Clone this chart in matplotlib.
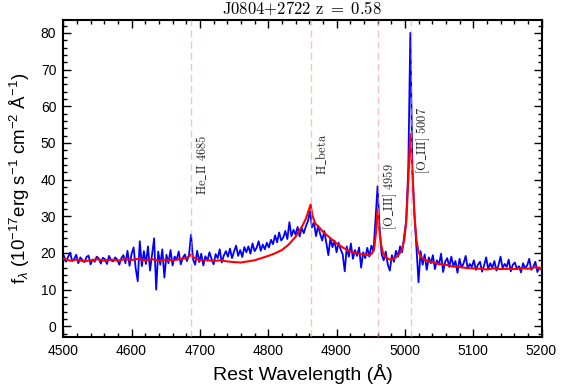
import numpy as np
import matplotlib
matplotlib.use("Agg")
import matplotlib.pyplot as plt
from matplotlib.ticker import MultipleLocator

# ---------------- data ----------------
wave_start = 4501
wave_step = 3
blue_flux = [
    19.2, 17.6, 18.9, 20.1, 17.8, 18.4, 19.5, 17.2, 18.8, 18.1,
    17.5, 18.9, 19.3, 16.9, 18.2, 17.6, 19.0, 18.5, 17.1, 18.7,
    18.3, 17.0, 19.2, 18.0, 17.7, 18.8, 18.2, 16.8, 18.6, 19.4,
    17.2, 20.6, 16.5, 19.8, 21.5, 15.8, 12.3, 23.2, 16.4, 20.5,
    17.0, 21.8, 15.2, 19.6, 24.0, 10.0, 20.4, 16.8, 21.0, 13.3,
    19.5, 17.2, 20.8, 16.6, 19.0, 18.2, 20.4, 16.9, 18.7, 19.6,
    17.8, 19.4, 25.0, 18.2, 16.8, 20.6, 17.5, 19.8, 16.6, 19.1,
    17.9, 20.2, 18.4, 16.9, 19.7, 18.6, 21.0, 17.4, 19.3, 20.5,
    19.0, 21.2, 18.6, 20.4, 22.0, 19.2, 20.8, 18.9, 21.6, 20.2,
    21.8, 19.8, 22.6, 20.5, 21.4, 23.2, 20.6, 22.3, 21.0, 22.8,
    21.5, 23.6, 22.4, 24.8, 22.9, 25.6, 23.4, 24.2, 26.0, 23.8,
    28.4, 24.6, 26.3, 25.0, 27.1, 24.5, 26.8, 25.4, 27.2, 28.6,
    31.4, 27.0, 28.2, 24.6, 27.4, 25.2, 23.4, 26.0, 22.8, 19.4,
    24.0, 21.6, 23.4, 20.2, 22.8, 21.0, 19.6, 15.0, 21.8, 19.0,
    22.6, 18.4, 20.8, 19.2, 21.5, 16.0, 20.2, 18.6, 21.4, 19.0,
    22.0, 20.5, 29.0, 38.2, 27.0, 19.6, 18.0, 20.4, 16.8, 15.2,
    19.4, 17.6, 20.6, 19.0, 21.8, 20.2, 24.6, 29.0, 43.0, 80.0,
    43.0, 30.5, 21.0, 12.0, 20.5, 16.8, 19.6, 15.4, 18.8, 17.2,
    19.4, 15.6, 18.0, 16.8, 19.8, 14.8, 17.6, 18.6, 16.2, 19.0,
    16.4, 17.8, 14.6, 18.4, 16.0, 17.2, 19.2, 15.8, 17.0, 16.2,
    18.0, 15.4, 16.8, 17.6, 14.9, 16.6, 18.8, 15.6, 17.2, 16.0,
    17.8, 15.2, 16.6, 19.0, 15.9, 17.0, 16.2, 18.2, 15.0, 16.8,
    17.4, 15.6, 16.4, 14.7, 17.2, 15.8, 16.6, 18.4, 15.4, 16.2,
    17.6, 14.8, 16.0, 15.4,
]
blue_wave = [wave_start + wave_step * i for i in range(len(blue_flux))]

red_wave = [4501, 4510, 4520, 4530, 4540, 4550, 4560, 4570, 4580, 4590,
            4600, 4610, 4620, 4630, 4640, 4650, 4660, 4670, 4680, 4684,
            4687, 4690, 4695, 4700, 4710, 4720, 4730, 4740, 4750, 4760,
            4770, 4780, 4790, 4800, 4810, 4820, 4830, 4840, 4850, 4855,
            4859, 4862, 4865, 4869, 4875, 4880, 4890, 4900, 4910, 4920,
            4930, 4940, 4948, 4952, 4955, 4958, 4960, 4962, 4965, 4968,
            4972, 4978, 4984, 4990, 4995, 4999, 5002, 5005, 5008, 5011,
            5014, 5017, 5020, 5024, 5030, 5040, 5050, 5060, 5070, 5080,
            5090, 5100, 5110, 5120, 5130, 5140, 5150, 5160, 5170, 5180,
            5190, 5200]
red_flux = [18.4, 17.9, 18.2, 17.7, 18.0, 18.3, 17.9, 18.2, 17.9, 18.3,
            18.1, 18.4, 18.0, 18.3, 17.9, 18.2, 18.0, 18.3, 18.6, 19.0,
            19.6, 18.9, 18.3, 18.0, 18.1, 17.8, 18.0, 17.7, 17.5, 17.4,
            17.7, 18.0, 18.6, 19.2, 19.9, 20.8, 22.3, 24.4, 27.4, 29.3,
            31.5, 33.2, 30.0, 28.0, 26.9, 25.8, 24.2, 22.6, 21.4, 20.4,
            19.9, 19.5, 19.4, 19.9, 21.0, 26.0, 31.9, 27.5, 22.5, 20.0,
            18.8, 18.2, 18.4, 19.3, 20.6, 23.4, 28.5, 39.5, 52.4, 42.0,
            30.5, 23.5, 20.2, 18.8, 18.0, 17.5, 17.0, 16.8, 16.3, 16.2,
            15.9, 15.8, 15.7, 15.5, 15.8, 15.6, 15.7, 15.6, 15.9, 15.7,
            16.1, 15.9]

line_wave = [4687, 4862.5, 4960.3, 5008.5]
line_labels = [r"He\_II 4685", r"H\_beta", r"[O\_III] 4959", r"[O\_III] 5007"]
label_y = [35.7, 41.2, 26.4, 41.4]

title = r"$\mathrm{J0804{+}2722\ z\ =\ 0.58}$"
x_ticks = [4500, 4600, 4700, 4800, 4900, 5000, 5100, 5200]
y_ticks = [0, 10, 20, 30, 40, 50, 60, 70, 80]

# ---------------- plot ----------------
plt.rcParams["font.family"] = ["Liberation Sans", "DejaVu Sans"]
plt.rcParams["mathtext.fontset"] = "custom"
plt.rcParams["mathtext.rm"] = "Liberation Sans"
plt.rcParams["mathtext.it"] = "Liberation Sans:italic"
plt.rcParams["mathtext.bf"] = "Liberation Sans:bold"

fig = plt.figure(figsize=(5.7, 3.87), dpi=100)
ax = fig.add_axes([0.111, 0.1284, 0.839, 0.8196])

ax.plot(blue_wave, blue_flux, color="blue", lw=1.3, zorder=2)
ax.plot(red_wave, red_flux, color="red", lw=1.5, zorder=3)

for w, lab, yy in zip(line_wave, line_labels, label_y):
    ax.axvline(w, color="#f49a9a", alpha=0.6, lw=1.0, ls=(0, (5, 3)), zorder=4)
    ax.text(w + 5, yy, "$\\mathrm{" + lab.replace(" ", "\\ ") + "}$",
            rotation=90, ha="left", va="bottom", fontsize=9,
            math_fontfamily="cm", color="#222222")

ax.set_xlim(4500, 5200)
ax.set_ylim(-3, 83.5)
ax.set_xticks(x_ticks)
ax.set_yticks(y_ticks)
ax.xaxis.set_minor_locator(MultipleLocator(20))
ax.yaxis.set_minor_locator(MultipleLocator(2))
ax.tick_params(which="both", direction="in", top=True, right=True, labelsize=10)
ax.tick_params(which="major", length=6, width=1.0, pad=5)
ax.tick_params(which="minor", length=3, width=1.0)
for s in ax.spines.values():
    s.set_linewidth(1.5)

ax.set_xlabel("Rest Wavelength (Å)", fontsize=14, labelpad=4)
ax.set_ylabel(r"f$_\lambda$ (10$^{-17}$erg s$^{-1}$ cm$^{-2}$ Å$^{-1}$)", fontsize=13.5, labelpad=6)
ax.set_title(title, fontsize=12, math_fontfamily="cm", pad=5)

fig.savefig("out.png", dpi=100)
